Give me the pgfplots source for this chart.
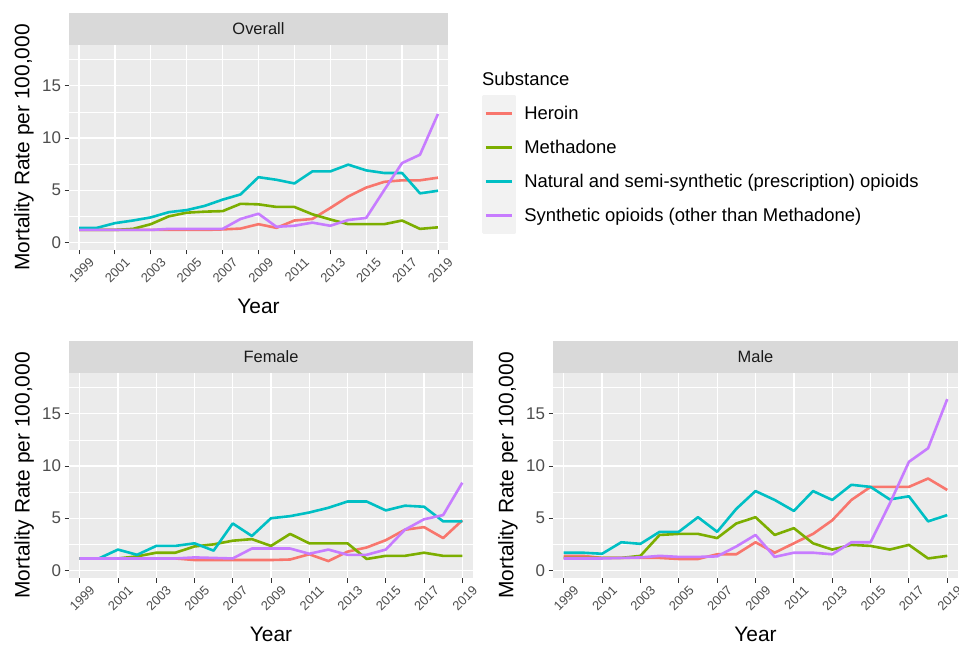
\documentclass[border=0pt]{standalone}
\usepackage{pgfplots}
\pgfplotsset{compat=1.18}
\usepackage{pgfplotstable}
\usepackage{fontspec}
\setmainfont{Liberation Sans}

\definecolor{cH}{HTML}{F8766D}
\definecolor{cM}{HTML}{7CAE00}
\definecolor{cN}{HTML}{00BFC4}
\definecolor{cS}{HTML}{C77CFF}
\definecolor{panelbg}{HTML}{EBEBEB}
\definecolor{stripbg}{HTML}{D9D9D9}
\definecolor{keybg}{HTML}{F2F2F2}
\definecolor{tickc}{HTML}{4D4D4D}
\definecolor{tickm}{HTML}{333333}
\definecolor{stript}{HTML}{1A1A1A}

\pgfplotstableread{
year H M N S
1999 1.2 1.2 1.4 1.2
2000 1.2 1.2 1.4 1.2
2001 1.2 1.2 1.85 1.2
2002 1.2 1.3 2.1 1.2
2003 1.2 1.75 2.4 1.2
2004 1.2 2.5 2.9 1.3
2005 1.2 2.85 3.1 1.3
2006 1.2 2.95 3.5 1.3
2007 1.25 3.0 4.1 1.3
2008 1.33 3.7 4.6 2.25
2009 1.75 3.65 6.25 2.75
2010 1.4 3.4 6.0 1.5
2011 2.1 3.4 5.65 1.6
2012 2.25 2.7 6.8 1.9
2013 3.3 2.2 6.8 1.6
2014 4.4 1.75 7.45 2.15
2015 5.25 1.75 6.9 2.35
2016 5.8 1.75 6.65 5.0
2017 5.95 2.1 6.65 7.6
2018 5.95 1.3 4.7 8.4
2019 6.2 1.45 4.95 12.3
}\overall

\pgfplotstableread{
year H M N S
1999 1.15 1.15 1.15 1.15
2000 1.15 1.15 1.15 1.15
2001 1.15 1.15 2.0 1.15
2002 1.15 1.35 1.5 1.15
2003 1.15 1.7 2.35 1.15
2004 1.15 1.7 2.35 1.15
2005 1.0 2.3 2.6 1.25
2006 1.0 2.5 1.9 1.2
2007 1.0 2.85 4.5 1.15
2008 1.0 3.0 3.3 2.1
2009 1.0 2.35 5.0 2.1
2010 1.05 3.5 5.2 2.1
2011 1.55 2.6 5.55 1.6
2012 0.9 2.6 6.0 2.0
2013 1.8 2.6 6.6 1.5
2014 2.2 1.1 6.6 1.5
2015 2.9 1.4 5.75 2.0
2016 3.9 1.4 6.2 3.9
2017 4.15 1.7 6.1 4.9
2018 3.1 1.4 4.7 5.3
2019 4.8 1.4 4.7 8.4
}\female

\pgfplotstableread{
year H M N S
1999 1.4 1.2 1.7 1.15
2000 1.4 1.2 1.7 1.15
2001 1.2 1.2 1.6 1.15
2002 1.2 1.2 2.7 1.2
2003 1.2 1.4 2.55 1.25
2004 1.2 3.4 3.7 1.4
2005 1.1 3.5 3.7 1.3
2006 1.1 3.5 5.1 1.3
2007 1.55 3.1 3.7 1.35
2008 1.55 4.5 5.9 2.3
2009 2.7 5.1 7.6 3.4
2010 1.7 3.4 6.75 1.3
2011 2.6 4.05 5.7 1.7
2012 3.5 2.6 7.6 1.7
2013 4.8 2.0 6.75 1.55
2014 6.75 2.45 8.2 2.7
2015 8.0 2.35 8.0 2.7
2016 8.0 2.0 6.8 6.4
2017 8.0 2.45 7.1 10.4
2018 8.8 1.15 4.7 11.7
2019 7.7 1.4 5.3 16.4
}\male

\pgfplotsset{
  facet/.style={
    scale only axis,
    height=205bp,
    anchor=south west,
    xmin=1998.44, xmax=2019.56,
    ymin=-0.72, ymax=18.9,
    xtick={1999,2001,...,2019},
    ytick={0,5,10,15},
    minor ytick={2.5,7.5,12.5,17.5},
    xmajorgrids, ymajorgrids, yminorgrids,
    major grid style={white, line width=1.3bp},
    minor grid style={white, line width=0.7bp},
    axis background/.style={fill=panelbg},
    axis line style={draw=none},
    tick pos=left, tick align=outside,
    major tick length=4.5bp, minor tick length=0pt,
    tick style={tickm, line width=0.9bp},
    /pgf/number format/assume math mode=true,
    xticklabel style={font=\fontsize{13}{13}\selectfont, text=tickc,
      xshift=2.5bp, yshift=-15.5bp, rotate=45, anchor=center,
      /pgf/number format/1000 sep={}},
    yticklabel style={font=\fontsize{17}{17}\selectfont, text=tickc},
    xlabel={Year},
    xlabel style={at={(axis description cs:0.5,-0.273)}, anchor=center,
      font=\fontsize{21}{21}\selectfont},
    ylabel={Mortality Rate per 100,000},
    ylabel style={anchor=center, font=\fontsize{21}{21}\selectfont},
    every axis title shift=0pt,
    title style={at={(axis description cs:0.5,1)}, anchor=south, yshift=0pt,
      fill=stripbg, minimum height=32bp, inner sep=0pt, text=stript,
      font=\fontsize{16.5}{16.5}\selectfont},
    every axis plot/.append style={line width=2.6bp, line join=round},
  }
}

\begin{document}
\begin{tikzpicture}
\useasboundingbox (0,0) rectangle (959bp,647bp);

\begin{axis}[facet, at={(69bp,397bp)}, width=379bp,
  title={Overall},
  title style={minimum width=379bp},
  ylabel style={at={(axis description cs:-0.119,0.5)}},
  legend style={at={(axis description cs:1.0897,0.7498)}, anchor=north west,
    draw=none, fill=none, inner sep=0pt, row sep=0pt,
    nodes={inner ysep=1bp, inner xsep=0bp},
    font=\fontsize{18.5}{18.5}\selectfont,
    /tikz/every odd column/.append style={column sep=8bp}},
  legend cell align=left,
  legend image code/.code={
    \path (0bp,-15.7bp) rectangle (31.5bp,15.7bp);
    \begin{pgfinterruptboundingbox}
    \fill[keybg] (0bp,-17.2bp) rectangle (31.5bp,17.2bp);
    \end{pgfinterruptboundingbox}
    \draw (2.5bp,0bp) -- (29bp,0bp);
  },
  after end axis/.code={
    \node[anchor=west, inner sep=0pt, font=\fontsize{18.5}{18.5}\selectfont]
      at (axis description cs:1.0897,0.834) {Substance};
  },
]
\addplot[cH] table[x=year,y=H] {\overall};
\addplot[cM] table[x=year,y=M] {\overall};
\addplot[cN] table[x=year,y=N] {\overall};
\addplot[cS] table[x=year,y=S] {\overall};
\legend{Heroin, Methadone, Natural and semi-synthetic (prescription) opioids, Synthetic opioids (other than Methadone)}
\end{axis}

\begin{axis}[facet, at={(69bp,69bp)}, width=404bp,
  title={Female},
  title style={minimum width=404bp},
  ylabel style={at={(axis description cs:-0.111,0.5)}},
]
\addplot[cH] table[x=year,y=H] {\female};
\addplot[cM] table[x=year,y=M] {\female};
\addplot[cN] table[x=year,y=N] {\female};
\addplot[cS] table[x=year,y=S] {\female};
\end{axis}

\begin{axis}[facet, at={(553bp,69bp)}, width=405bp,
  title={Male},
  title style={minimum width=405bp},
  ylabel style={at={(axis description cs:-0.111,0.5)}},
]
\addplot[cH] table[x=year,y=H] {\male};
\addplot[cM] table[x=year,y=M] {\male};
\addplot[cN] table[x=year,y=N] {\male};
\addplot[cS] table[x=year,y=S] {\male};
\end{axis}
\end{tikzpicture}
\end{document}
